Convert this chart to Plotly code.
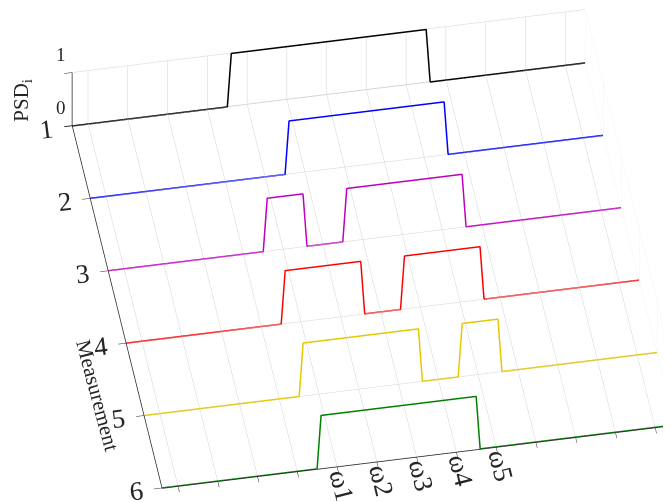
import plotly.graph_objects as go

# Measurement index for each trace (back to front)
measurements = [1, 2, 3, 4, 5, 6]
colors = ["#000000", "#0000ff", "#bf00bf", "#ff0000", "#e6c800", "#008000"]

# Frequency-axis vertices of each step trace (x) and PSD level (z)
x_m1 = [0.6, 4.5, 4.6, 9.5, 9.6, 13.5]
z_m1 = [0, 0, 1, 1, 0, 0]
x_m2 = [0.6, 5.5, 5.6, 9.5, 9.6, 13.5]
z_m2 = [0, 0, 1, 1, 0, 0]
x_m3 = [0.6, 4.5, 4.6, 5.5, 5.6, 6.5, 6.6, 9.5, 9.6, 13.5]
z_m3 = [0, 0, 1, 1, 0, 0, 1, 1, 0, 0]
x_m4 = [0.6, 4.5, 4.6, 6.5, 6.6, 7.5, 7.6, 9.5, 9.6, 13.5]
z_m4 = [0, 0, 1, 1, 0, 0, 1, 1, 0, 0]
x_m5 = [0.6, 4.5, 4.6, 7.5, 7.6, 8.5, 8.6, 9.5, 9.6, 13.5]
z_m5 = [0, 0, 1, 1, 0, 0, 1, 1, 0, 0]
x_m6 = [0.6, 4.5, 4.6, 8.5, 8.6, 13.5]
z_m6 = [0, 0, 1, 1, 0, 0]

xs = [x_m1, x_m2, x_m3, x_m4, x_m5, x_m6]
zs = [z_m1, z_m2, z_m3, z_m4, z_m5, z_m6]

x_tickvals = list(range(1, 14))
x_ticktext = ["", "", "", "", "ω1", "ω2", "ω3", "ω4", "ω5", "", "", "", ""]
y_tickvals = [1, 2, 3, 4, 5, 6]
z_tickvals = [0, 1]
z_ticktext = ["0", "1"]
x_range = [0.6, 13.5]
y_title = "Measurement"
z_title = "PSD<sub>i</sub>"

fig = go.Figure()
for m, x, z, c in zip(measurements, xs, zs, colors):
    fig.add_trace(go.Scatter3d(
        x=x, y=[m] * len(x), z=z, mode="lines",
        line=dict(color=c, width=3), showlegend=False, hoverinfo="skip"))

font = dict(family="Liberation Serif", size=18, color="#262626")
bigfont = dict(family="Liberation Serif", size=21, color="#262626")
axcommon = dict(showbackground=False, gridcolor="#d4d4d4", gridwidth=1,
                showline=True, linecolor="#262626", linewidth=1.5,
                ticks="outside", ticklen=8, tickcolor="#262626",
                zeroline=False, showspikes=False, tickfont=font,
                title=dict(text=""))

# text placed through scene annotations (anchored at data coordinates)
annotations = []
for zv, zt in zip(z_tickvals, z_ticktext):
    annotations.append(dict(x=x_range[0], y=y_tickvals[0], z=zv, text=zt,
                            showarrow=False, font=dict(family="Liberation Serif", size=19, color="#262626"),
                            xshift=-11, yshift=18))
annotations.append(dict(x=x_range[0], y=y_tickvals[0], z=0.5, text=z_title,
                        showarrow=False, font=bigfont, textangle=-90,
                        xshift=-50, yshift=-1))
annotations.append(dict(x=x_range[0], y=4.5, z=0, text=y_title,
                        showarrow=False, font=bigfont, textangle=75,
                        xshift=-38, yshift=-16))

k = 2.085
r1 = (0.9851, -0.1719, 0.0)
r2 = (0.121, 0.6933, 0.7103)
view = (-0.1221, -0.6997, 0.7038)
p = 250.0
sx, sy = 30.0, 10.0
cen = [-(sx * a + sy * b) / p for a, b in zip(r1, r2)]
eye = [c + 2.0 * v for c, v in zip(cen, view)]

fig.update_layout(
    width=671, height=502,
    margin=dict(l=0, r=0, t=0, b=0),
    paper_bgcolor="white",
    scene=dict(
        domain=dict(x=[0.0, 1.0], y=[0.0, 1.0]),
        xaxis=dict(range=x_range, tickvals=x_tickvals, ticktext=x_ticktext,
                   **axcommon),
        yaxis=dict(range=[6.006, 0.994], tickvals=y_tickvals, **axcommon),
        zaxis=dict(range=[0, 1], tickvals=z_tickvals, showticklabels=False,
                   **axcommon),
        aspectmode="manual",
        aspectratio=dict(x=0.995 * k, y=1.0 * k, z=0.1425 * k),
        camera=dict(
            projection=dict(type="orthographic"),
            eye=dict(x=eye[0], y=eye[1], z=eye[2]),
            up=dict(x=0, y=0, z=1),
            center=dict(x=cen[0], y=cen[1], z=cen[2])),
        annotations=annotations,
    ),
)
fig.write_html("out.html")
